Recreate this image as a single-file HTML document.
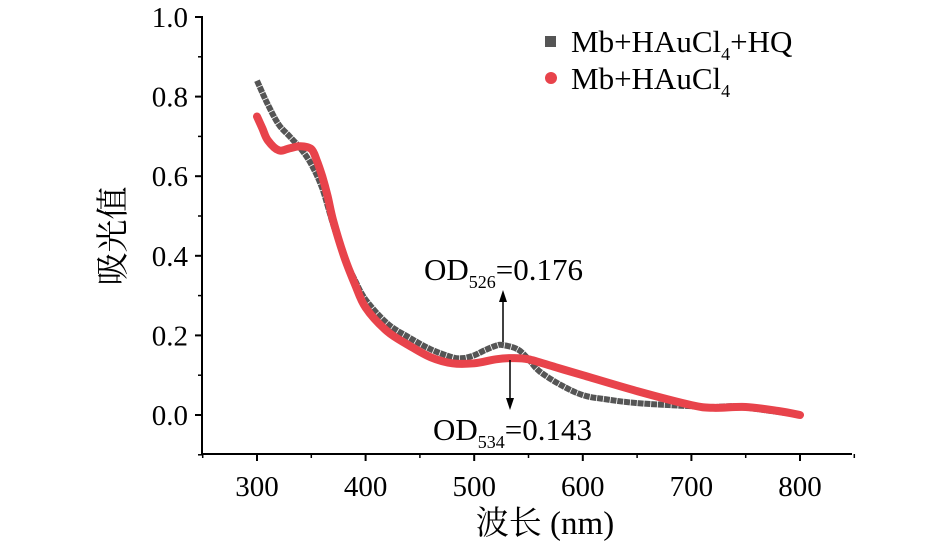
<!DOCTYPE html>
<html><head><meta charset="utf-8"><style>
body{margin:0;background:#fff;}
svg text{font-family:"Liberation Serif","Noto Serif CJK SC",serif;fill:#000;}
</style></head><body>
<svg id="chart" width="945" height="547" viewBox="0 0 945 547">
<g id="axes"></g>
<g id="series"></g>
<g>
 <rect x="545" y="36" width="11" height="11" fill="#555"/>
 <text x="571" y="52" font-size="31">Mb+HAuCl<tspan font-size="18" dy="8">4</tspan><tspan dy="-8">+HQ</tspan></text>
 <circle cx="551" cy="78" r="6" fill="#e8434b"/>
 <text x="571" y="89" font-size="31">Mb+HAuCl<tspan font-size="18" dy="8">4</tspan></text>
</g>
<g>
 <text x="424" y="280" font-size="31">OD<tspan font-size="18" dy="8">526</tspan><tspan dy="-8">=0.176</tspan></text>
 <line x1="503" y1="342" x2="503" y2="300" stroke="#000" stroke-width="1.5"/>
 <polygon points="503,290 499,302 507,302" fill="#000"/>
</g>
<g>
 <text x="433" y="440" font-size="31">OD<tspan font-size="18" dy="8">534</tspan><tspan dy="-8">=0.143</tspan></text>
 <line x1="510" y1="360" x2="510" y2="400" stroke="#000" stroke-width="1.5"/>
 <polygon points="510,410 506,398 514,398" fill="#000"/>
</g>
<text x="545" y="534" font-size="33" text-anchor="middle">波长 (nm)</text>
<text transform="translate(124,236) rotate(-90)" font-size="33" text-anchor="middle">吸光值</text>
</svg>
<script>
const xTicks=[300,400,500,600,700,800];
const yTicks=[0.0,0.2,0.4,0.6,0.8,1.0];
const yTickLabels=["0.0","0.2","0.4","0.6","0.8","1.0"];
const hqX=[300,310,320,330,340,350,360,370,380,390,400,420,440,460,480,490,500,510,520,526,540,550,560,580,600,620,650,700,720,740,760,800];
const hqY=[0.84,0.78,0.73,0.70,0.67,0.63,0.57,0.48,0.40,0.34,0.29,0.23,0.195,0.165,0.145,0.143,0.15,0.163,0.174,0.176,0.165,0.14,0.11,0.075,0.05,0.04,0.03,0.022,0.02,0.022,0.015,0.0];
const mbX=[300,305,310,320,330,340,350,355,360,365,370,380,390,400,420,440,460,480,500,520,534,550,575,600,650,700,720,750,780,800];
const mbY=[0.75,0.72,0.69,0.665,0.67,0.675,0.668,0.64,0.60,0.55,0.49,0.40,0.33,0.27,0.21,0.175,0.145,0.13,0.13,0.14,0.143,0.14,0.12,0.10,0.06,0.025,0.018,0.02,0.01,0.0];
const NS="http://www.w3.org/2000/svg";
const X0=202,X1=852,Y0=454,Yt=17;
function sx(v){return 257+(v-300)*(800-257)/500;}
function sy(v){return 415-v*398;}
function mk(t,a,p){const e=document.createElementNS(NS,t);for(const k in a)e.setAttribute(k,a[k]);p.appendChild(e);return e;}
const ax=document.getElementById('axes');
let l=mk('line',{x1:X0,y1:Yt-1,x2:X0,y2:Y0+1,stroke:'#000','stroke-width':2},ax);


l=mk('line',{x1:X0-1,y1:Y0,x2:X1,y2:Y0,stroke:'#000','stroke-width':2},ax);


xTicks.forEach(v=>{
 mk('line',{x1:sx(v),y1:Y0,x2:sx(v),y2:Y0+7,stroke:'#000','stroke-width':2},ax);
 mk('line',{x1:sx(v+50),y1:Y0,x2:sx(v+50),y2:Y0+4,stroke:'#000','stroke-width':1.5},ax);
 const t=mk('text',{x:sx(v),y:Y0+42,'font-size':29,'text-anchor':'middle'},ax);t.textContent=v;
 
 
});
mk('line',{x1:sx(250),y1:Y0,x2:sx(250),y2:Y0+4,stroke:'#000','stroke-width':1.5},ax);
yTicks.forEach((v,i)=>{
 mk('line',{x1:X0-7,y1:sy(v),x2:X0,y2:sy(v),stroke:'#000','stroke-width':2},ax);
 if(v>0) mk('line',{x1:X0-4,y1:sy(v-0.1),x2:X0,y2:sy(v-0.1),stroke:'#000','stroke-width':1.5},ax);
 const t=mk('text',{x:X0-14,y:sy(v)+10,'font-size':29,'text-anchor':'end'},ax);t.textContent=yTickLabels[i];
 
 
});
mk('line',{x1:X0-4,y1:sy(-0.1),x2:X0,y2:sy(-0.1),stroke:'#000','stroke-width':1.5},ax);
const se=document.getElementById('series');
function path(xs,ys){
 const p=xs.map((x,i)=>[sx(x),sy(ys[i])]);
 let d='M'+p[0][0].toFixed(1)+','+p[0][1].toFixed(1);
 for(let i=0;i<p.length-1;i++){
  const a=p[Math.max(i-1,0)],b=p[i],c=p[i+1],e=p[Math.min(i+2,p.length-1)];
  const c1=[b[0]+(c[0]-a[0])/6,b[1]+(c[1]-a[1])/6],c2=[c[0]-(e[0]-b[0])/6,c[1]-(e[1]-b[1])/6];
  d+=' C'+c1.map(n=>n.toFixed(1))+' '+c2.map(n=>n.toFixed(1))+' '+c[0].toFixed(1)+','+c[1].toFixed(1);
 }
 return d;
}
const g=mk('path',{d:path(hqX,hqY),fill:'none',stroke:'#555','stroke-width':6,'stroke-linejoin':'round','stroke-dasharray':'6 0.8'},se);


const r=mk('path',{d:path(mbX,mbY),fill:'none',stroke:'#e8434b','stroke-width':8,'stroke-linejoin':'round','stroke-linecap':'round'},se);


</script>
</body></html>
